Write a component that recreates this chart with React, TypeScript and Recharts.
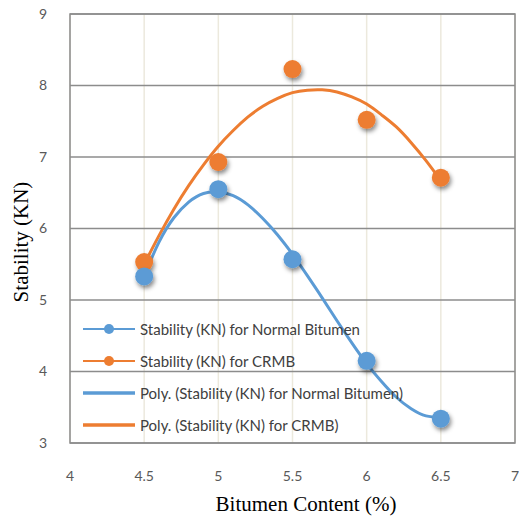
import React from 'react';
import {
  ComposedChart, Line, Scatter, XAxis, YAxis, CartesianGrid, Legend, ReferenceArea,
} from 'recharts';

const BITUMEN = [4.5, 5, 5.5, 6, 6.5];
const NORMAL = [5.33, 6.55, 5.57, 4.15, 3.34];
const CRMB = [5.53, 6.93, 8.23, 7.52, 6.71];

// trend curves, every 0.1 %
const TREND_X = [4.5, 4.6, 4.7, 4.8, 4.9, 5.0, 5.1, 5.2, 5.3, 5.4, 5.5, 5.6, 5.7, 5.8, 5.9, 6.0, 6.1, 6.2, 6.3, 6.4, 6.5];
const NORMAL_TREND = [5.34, 5.81, 6.15, 6.37, 6.49, 6.51, 6.46, 6.33, 6.14, 5.91, 5.64, 5.34, 5.03, 4.71, 4.4, 4.11, 3.86, 3.64, 3.48, 3.38, 3.36];
const CRMB_TREND = [5.5, 5.9, 6.27, 6.6, 6.89, 7.15, 7.37, 7.56, 7.71, 7.82, 7.9, 7.935, 7.94, 7.91, 7.84, 7.74, 7.59, 7.42, 7.2, 6.95, 6.67];

const X_TICKS = [4, 4.5, 5, 5.5, 6, 6.5, 7];
const Y_TICKS = [3, 4, 5, 6, 7, 8, 9];

const LEGEND_ITEMS = [
  { label: 'Stability (KN) for Normal Bitumen', color: '#5B9BD5', marker: true },
  { label: 'Stability (KN) for CRMB', color: '#ED7D31', marker: true },
  { label: 'Poly. (Stability (KN) for Normal Bitumen)', color: '#5B9BD5', marker: false },
  { label: 'Poly. (Stability (KN) for CRMB)', color: '#ED7D31', marker: false },
];

const BLUE = '#5B9BD5';
const ORANGE = '#ED7D31';
const SANS = 'Lato, "Liberation Sans", sans-serif';
const SERIF = '"Liberation Serif", "Times New Roman", serif';

const normalPts = BITUMEN.map((x, i) => ({ x, y: NORMAL[i] }));
const crmbPts = BITUMEN.map((x, i) => ({ x, y: CRMB[i] }));
const normalTrend = TREND_X.map((x, i) => ({ x, y: NORMAL_TREND[i] }));
const crmbTrend = TREND_X.map((x, i) => ({ x, y: CRMB_TREND[i] }));

const dot = (color: string) => (p: any) => (
  <circle cx={p.cx} cy={p.cy} r={9} fill={color} filter="url(#mkShadow)" />
);

const renderLegend = () => (
  <div style={{ fontFamily: SANS, fontSize: 15, color: '#404040' }}>
    {LEGEND_ITEMS.map((it) => (
      <div key={it.label} style={{ height: 32, display: 'flex', alignItems: 'center' }}>
        <svg width={56} height={14} style={{ marginRight: 1 }}>
          <line x1={0} y1={7} x2={52} y2={7} stroke={it.color} strokeWidth={it.marker ? 2 : 3.5} />
          {it.marker && <circle cx={26} cy={7} r={5} fill={it.color} />}
        </svg>
        <span style={{ whiteSpace: 'nowrap' }}>{it.label}</span>
      </div>
    ))}
  </div>
);

const YTitle = (props: any) => {
  const cx = 21;
  const cy = 242;
  return (
    <text x={cx} y={cy} transform={`rotate(-90 ${cx} ${cy})`} textAnchor="middle"
      dominantBaseline="central" fontFamily={SERIF} fontSize={21} fill="#000">
      Stability (KN)
    </text>
  );
};

const XTitle = (props: any) => (
  <text x={306} y={511} textAnchor="middle" fontFamily={SERIF} fontSize={21} fill="#000">
    Bitumen Content (%)
  </text>
);

export default function App() {
  return (
    <div style={{ position: 'absolute', left: 0, top: 0, background: '#fff' }}>
      <ComposedChart width={519} height={520} margin={{ top: 14, right: 4, bottom: 0, left: 0 }}>
        <defs>
          <filter id="mkShadow" x="-60%" y="-60%" width="220%" height="220%">
            <feDropShadow dx={1.5} dy={3} stdDeviation={2} floodColor="#000" floodOpacity={0.45} />
          </filter>
        </defs>
        <CartesianGrid horizontal={false} stroke="#ECE9DD" strokeWidth={1.5} />
        <CartesianGrid vertical={false} stroke="#8C8C8C" strokeWidth={1.5} />
        <ReferenceArea x1={4} x2={7} y1={3} y2={9} fill="none" stroke="#8C8C8C" strokeWidth={1.5} fillOpacity={0} />
        <XAxis type="number" dataKey="x" domain={[4, 7]} ticks={X_TICKS} height={77}
          axisLine={false} tickLine={false} tickSize={0} tickMargin={28}
          tick={{ fill: '#595959', fontSize: 14, fontFamily: SANS }}
          label={<XTitle />} allowDataOverflow />
        <YAxis type="number" domain={[3, 9]} ticks={Y_TICKS} width={70}
          axisLine={false} tickLine={false} tickSize={0} tickMargin={23}
          tick={{ fill: '#595959', fontSize: 14, fontFamily: SANS }}
          label={<YTitle />} allowDataOverflow />
        <Line data={crmbTrend} dataKey="y" type="natural" stroke={ORANGE} strokeWidth={3}
          dot={false} activeDot={false} isAnimationActive={false} legendType="none" />
        <Line data={normalTrend} dataKey="y" type="natural" stroke={BLUE} strokeWidth={3}
          dot={false} activeDot={false} isAnimationActive={false} legendType="none" />
        <Scatter data={crmbPts} dataKey="y" fill={ORANGE} shape={dot(ORANGE)} isAnimationActive={false} />
        <Scatter data={normalPts} dataKey="y" fill={BLUE} shape={dot(BLUE)} isAnimationActive={false} />
        <Legend layout="vertical" align="center" verticalAlign="middle" content={renderLegend}
          wrapperStyle={{ left: 83, top: 313, width: 340 }} />
      </ComposedChart>
    </div>
  );
}
